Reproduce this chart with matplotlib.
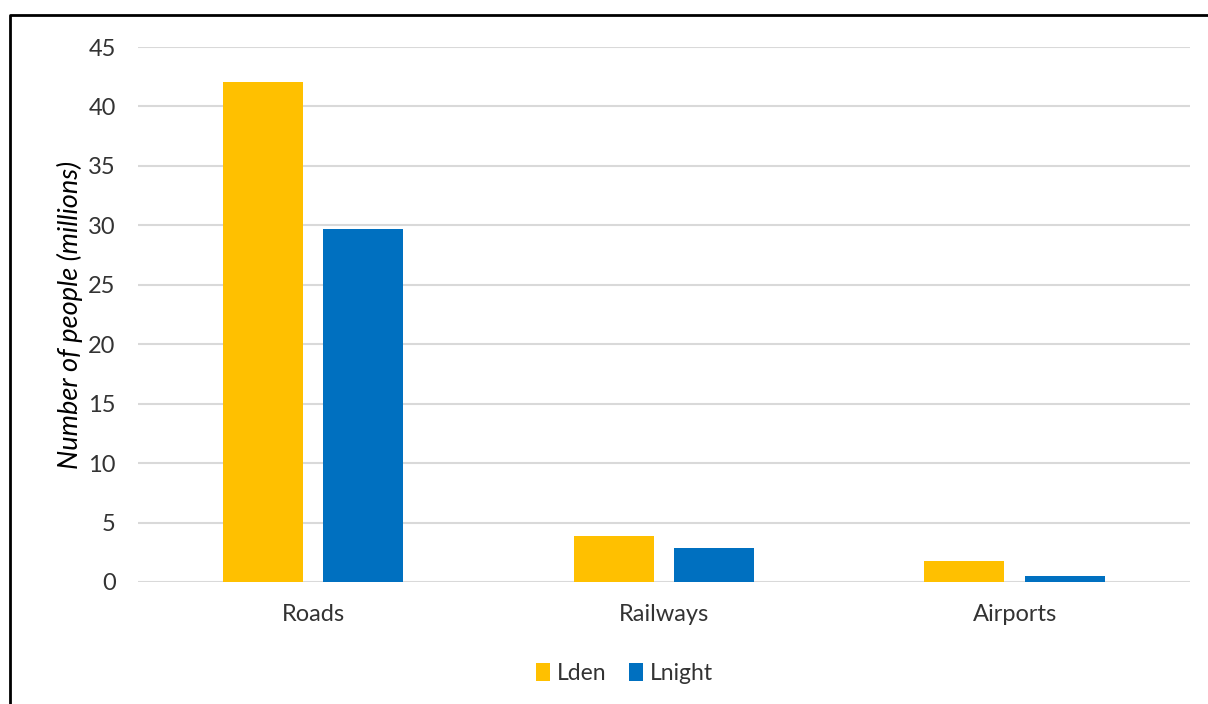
import numpy as np
import matplotlib.pyplot as plt
from matplotlib.lines import Line2D

plt.rcParams['font.family'] = ['Lato', 'DejaVu Sans']

kategoriler = ["Roads", "Railways", "Airports"]
lden = [42.1, 3.9, 1.8]
lnight = [29.7, 2.9, 0.5]

fig = plt.figure(figsize=(12.08, 7.04), dpi=100)
ax = fig.add_axes([0.1142, 0.1733, 0.8708, 0.7599])

x = np.arange(len(kategoriler))
w = 0.228
ax.bar(x - 0.143, lden, w, color="#FFC000", label="Lden", zorder=3)
ax.bar(x + 0.143, lnight, w, color="#0070C0", label="Lnight", zorder=3)

ax.set_xlim(-0.5, 2.5)
ax.set_ylim(0, 45)
ax.set_yticks(range(0, 46, 5))
ax.set_xticks(x)
ax.set_xticklabels(kategoriler)
ax.tick_params(axis="both", length=0, labelsize=17, colors="#333333")
ax.tick_params(axis="x", pad=16)
ax.tick_params(axis="y", pad=16)
ax.grid(axis="y", color="#d9d9d9", linewidth=1.5, zorder=0)
for s in ax.spines.values():
    s.set_visible(False)

ax.set_ylabel("Number of people (millions)", fontsize=19.5, style="italic",
              color="black", labelpad=4)

ax.legend(loc="center", bbox_to_anchor=(0.4625, -0.171), ncol=2,
          frameon=False, fontsize=16.5, handlelength=0.6, handleheight=0.8,
          handletextpad=0.3, columnspacing=1.0, labelcolor="#333333")

# cerceve
fig.add_artist(Line2D([10 / 1208, 10 / 1208, 1.01], [-0.01, 1 - 15 / 704, 1 - 15 / 704],
                      transform=fig.transFigure, color="black", linewidth=2))

plt.savefig("out.png", dpi=100)
plt.close()
